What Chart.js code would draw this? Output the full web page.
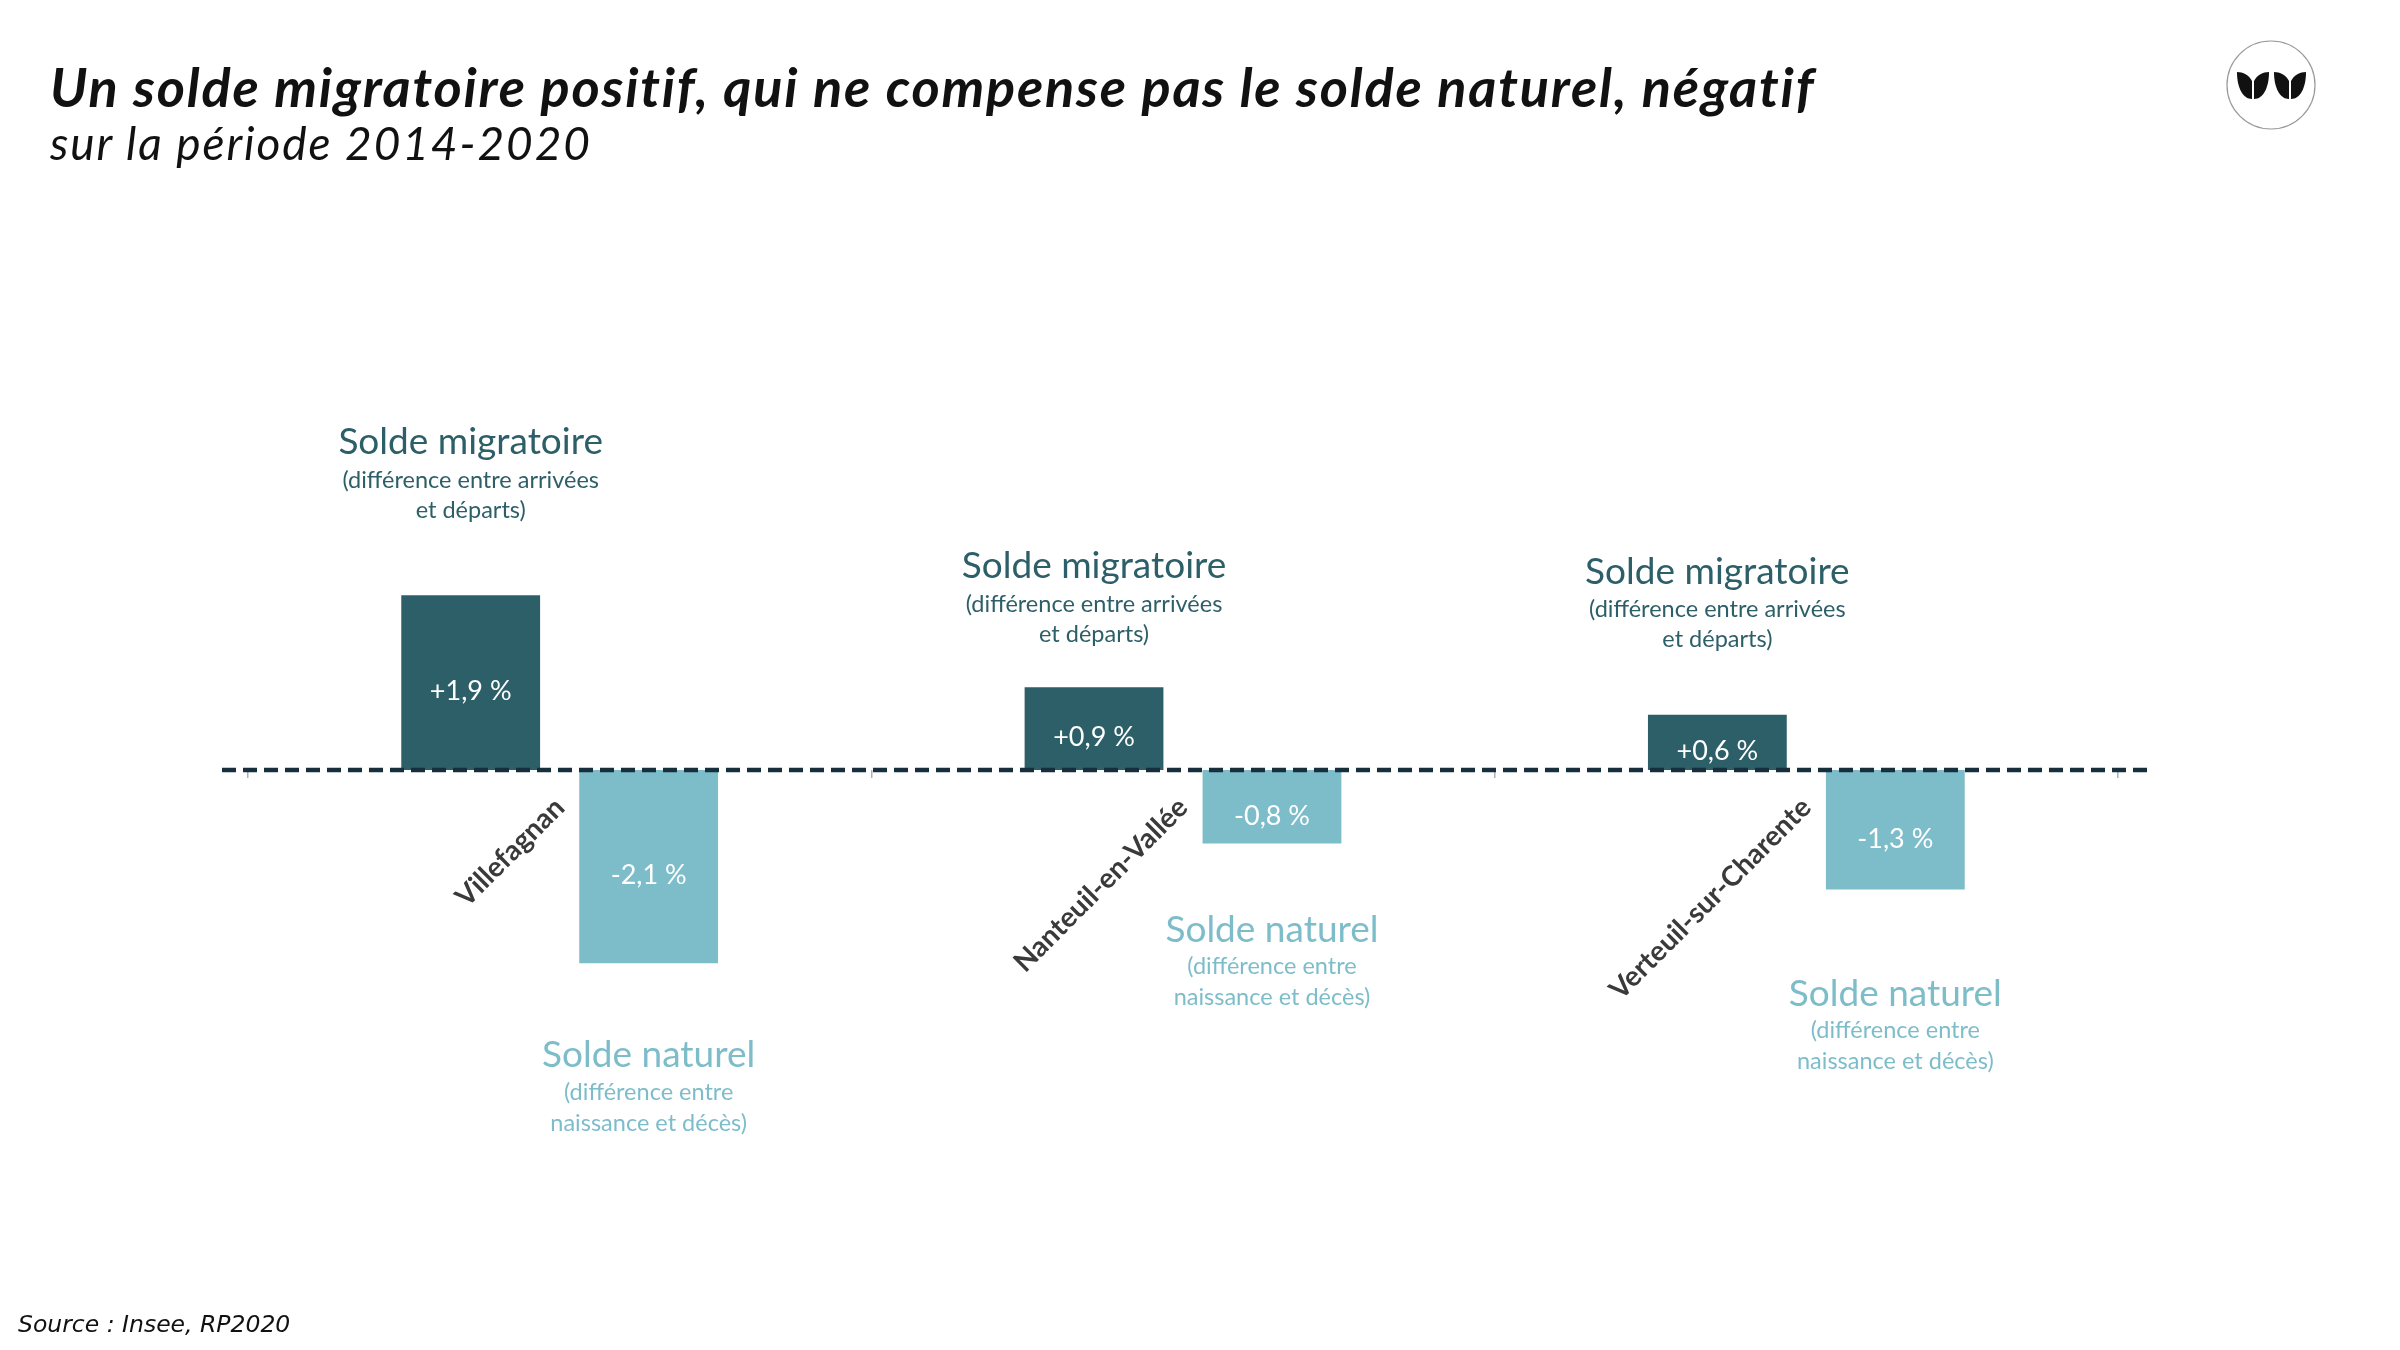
<!DOCTYPE html>
<html lang="fr">
<head>
<meta charset="utf-8">
<title>Solde migratoire et solde naturel</title>
<script src="https://cdn.jsdelivr.net/npm/chart.js@4.4.1/dist/chart.umd.min.js"></script>
<style>
    html, body { margin: 0; padding: 0; background: #ffffff; }
    body { width: 2400px; height: 1350px; position: relative; overflow: hidden; }
    #chart { position: absolute; left: 0; top: 0; }
    .title { position: absolute; left: 50px; top: 60px; font: italic 700 54px Lato, sans-serif; letter-spacing: 1.8px; color: #111; line-height: 1; white-space: nowrap; }
    .subtitle { position: absolute; left: 50px; top: 120px; font: italic 400 46px Lato, sans-serif; letter-spacing: 1.9px; color: #111; line-height: 1; white-space: nowrap; }
    .source { position: absolute; left: 18px; top: 1313px; font: italic 400 23.5px "DejaVu Sans", sans-serif; color: #111; line-height: 1; }
    .logo { position: absolute; left: 2226px; top: 40px; width: 90px; height: 90px; }
</style>
</head>
<body>
<canvas id="chart" width="2400" height="1350"></canvas>
<div class="title">Un solde migratoire positif, qui ne compense pas le solde naturel, négatif</div>
<div class="subtitle">sur la période 2014-2020</div>
<div class="source">Source : Insee, RP2020</div>
<svg class="logo" viewBox="0 0 90 90">
    <circle cx="45" cy="45" r="44" fill="#fff" stroke="#999" stroke-width="1.2"/>
    <path d="M11 32 C11 48 17 59 26 59 L26 41 C23 35 17 32 11 32 Z" fill="#111"/>
    <path d="M43 32 C43 48 37 59 28 59 L28 41 C31 35 37 32 43 32 Z" fill="#111"/>
    <path d="M48 32 C48 48 54 59 63 59 L63 41 C60 35 54 32 48 32 Z" fill="#111"/>
    <path d="M80 32 C80 48 74 59 65 59 L65 41 C68 35 74 32 80 32 Z" fill="#111"/>
</svg>
<script>
// données (Insee, RP2020) - variation annuelle moyenne 2014-2020, en %
const communes = ['Villefagnan', 'Nanteuil-en-Vallée', 'Verteuil-sur-Charente'];
const soldeMigratoire = [1.9, 0.9, 0.6];
const soldeNaturel = [-2.1, -0.8, -1.3];

const darkTeal = '#2d5f68';
const lightTeal = '#7dbdca';

// décalage des annotations par rapport au bout des barres (px)
const migrNoteGap = [153, 121, 143];
const natNoteGap = [92, 86, 104];

function fmt(v) {
    return (v > 0 ? '+' : '') + v.toFixed(1).replace('.', ',') + ' %';
}

const overlay = {
    id: 'overlay',
    afterDatasetsDraw(chart) {
        const ctx = chart.ctx;
        const area = chart.chartArea;
        const y0 = chart.scales.y.getPixelForValue(0);

        // valeurs dans les barres
        ctx.save();
        ctx.fillStyle = '#ffffff';
        ctx.font = '400 27px Lato, sans-serif';
        ctx.textAlign = 'center';
        ctx.textBaseline = 'middle';
        chart.data.datasets.forEach((ds, d) => {
            chart.getDatasetMeta(d).data.forEach((bar, i) => {
                ctx.fillText(fmt(ds.data[i]), bar.x, (bar.y + bar.base) / 2 + 9);
            });
        });
        ctx.restore();

        // ligne zéro en pointillés
        ctx.save();
        ctx.strokeStyle = '#172e3c';
        ctx.lineWidth = 4.5;
        ctx.setLineDash([14, 7]);
        ctx.beginPath();
        ctx.moveTo(area.left - 26, y0);
        ctx.lineTo(area.right + 29, y0);
        ctx.stroke();
        ctx.restore();

        // annotations
        ctx.save();
        ctx.textAlign = 'center';
        ctx.textBaseline = 'middle';
        chart.getDatasetMeta(0).data.forEach((bar, i) => {
            const y = bar.y - migrNoteGap[i];
            ctx.fillStyle = darkTeal;
            ctx.font = '400 37px Lato, sans-serif';
            ctx.fillText('Solde migratoire', bar.x, y);
            ctx.font = '400 23.5px Lato, sans-serif';
            ctx.fillText('(différence entre arrivées', bar.x, y + 38);
            ctx.fillText('et départs)', bar.x, y + 68);
        });
        chart.getDatasetMeta(1).data.forEach((bar, i) => {
            const y = bar.y + natNoteGap[i];
            ctx.fillStyle = lightTeal;
            ctx.font = '400 37px Lato, sans-serif';
            ctx.fillText('Solde naturel', bar.x, y);
            ctx.font = '400 23.5px Lato, sans-serif';
            ctx.fillText('(différence entre', bar.x, y + 37);
            ctx.fillText('naissance et décès)', bar.x, y + 68);
        });
        ctx.restore();
    }
};

const chart = new Chart(
    document.getElementById('chart'),
    {
        type: 'bar',
        data: {
            labels: communes,
            datasets: [
                {
                    label: 'Solde migratoire',
                    data: soldeMigratoire,
                    backgroundColor: darkTeal
                },
                {
                    label: 'Solde naturel',
                    data: soldeNaturel,
                    backgroundColor: lightTeal
                }
            ]
        },
        options: {
            responsive: false,
            devicePixelRatio: 1,
            animation: false,
            categoryPercentage: 0.571,
            barPercentage: 0.78,
            layout: {
                padding: { left: 248, right: 282, top: 540, bottom: 350 }
            },
            plugins: {
                legend: { display: false },
                tooltip: { enabled: false }
            },
            scales: {
                x: {
                    position: { y: 0 },
                    afterFit: s => { s.height = 0; },
                    border: { display: false },
                    grid: {
                        display: true,
                        drawOnChartArea: false,
                        drawTicks: true,
                        tickLength: 8,
                        color: '#b0b0b0',
                        lineWidth: 1.5
                    },
                    ticks: {
                        minRotation: 45,
                        maxRotation: 45,
                        padding: 13,
                        color: '#3a3a3a',
                        font: { family: 'Lato', size: 28, weight: '700' }
                    }
                },
                y: {
                    display: false,
                    min: -2.5,
                    max: 2.5
                }
            }
        },
        plugins: [overlay]
    }
);
</script>
</body>
</html>
